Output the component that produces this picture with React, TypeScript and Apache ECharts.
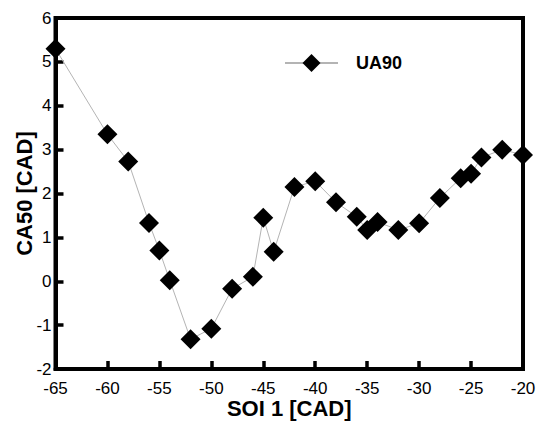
import React, { useEffect, useRef } from "react";
import * as echarts from "echarts";

const soi: number[] = [-65, -60, -58, -56, -55, -54, -52, -50, -48, -46, -45, -44, -42, -40, -38, -36, -35, -34, -32, -30, -28, -26, -25, -24, -22, -20];
const ca50: number[] = [5.3, 3.35, 2.73, 1.33, 0.7, 0.02, -1.32, -1.08, -0.17, 0.1, 1.45, 0.67, 2.15, 2.28, 1.8, 1.47, 1.17, 1.35, 1.17, 1.32, 1.9, 2.35, 2.45, 2.82, 3.0, 2.88];
const seriesName = "UA90";
const xName = "SOI 1 [CAD]";
const yName = "CA50 [CAD]";

const FONT = "'Liberation Sans', Arial, sans-serif";

export default function App() {
  const ref = useRef<HTMLDivElement>(null);
  useEffect(() => {
    if (!ref.current) return;
    const chart = echarts.init(ref.current, null, { renderer: "svg" });
    chart.setOption({
      animation: false,
      backgroundColor: "#fff",
      grid: {
        left: 55.5,
        right: 13,
        top: 18,
        bottom: 53,
        containLabel: false,
        outerBoundsMode: "none",
        show: true,
        backgroundColor: "transparent",
        borderColor: "#000",
        borderWidth: 4,
      },
      legend: {
        left: 279,
        top: 49,
        itemWidth: 53,
        itemHeight: 22.5,
        data: [seriesName],
        textStyle: {
          fontFamily: FONT,
          fontWeight: "bold",
          fontSize: 18,
          color: "#000",
          padding: [0, 0, 0, 13],
        },
      },
      xAxis: {
        type: "value",
        z: 3,
        min: -65,
        max: -20,
        interval: 5,
        name: xName,
        nameLocation: "middle",
        nameGap: 28,
        nameMoveOverlap: false,
        nameTextStyle: { fontFamily: FONT, fontWeight: "bold", fontSize: 22, lineHeight: 22, color: "#000" },
        axisLine: { show: true, onZero: false, lineStyle: { color: "#000", width: 4 } },
        axisTick: { show: true, inside: true, length: 8, lineStyle: { color: "#000", width: 3.5 } },
        axisLabel: { show: true, fontFamily: FONT, fontSize: 17, lineHeight: 14, color: "#000", margin: 12 },
        splitLine: { show: false },
      },
      yAxis: {
        type: "value",
        z: 3,
        min: -2,
        max: 6,
        interval: 1,
        name: yName,
        nameLocation: "middle",
        nameGap: 20,
        nameMoveOverlap: false,
        nameTextStyle: { fontFamily: FONT, fontWeight: "bold", fontSize: 22, color: "#000" },
        axisLine: { show: true, onZero: false, lineStyle: { color: "#000", width: 4 } },
        axisTick: { show: true, inside: true, length: 8, lineStyle: { color: "#000", width: 3.5 } },
        axisLabel: { show: true, fontFamily: FONT, fontSize: 17, color: "#000", margin: 4 },
        splitLine: { show: false },
      },
      series: [
        {
          name: seriesName,
          type: "line",
          data: soi.map((x, i) => [x, ca50[i]]),
          symbol: "diamond",
          symbolSize: 20,
          clip: false,
          lineStyle: { color: "#b4b4b4", width: 1 },
          itemStyle: { color: "#000" },
        },
      ],
    });
    return () => chart.dispose();
  }, []);
  return (
    <div
      ref={ref}
      style={{ position: "fixed", left: 0, top: 0, width: 536, height: 422, background: "#fff" }}
    />
  );
}
